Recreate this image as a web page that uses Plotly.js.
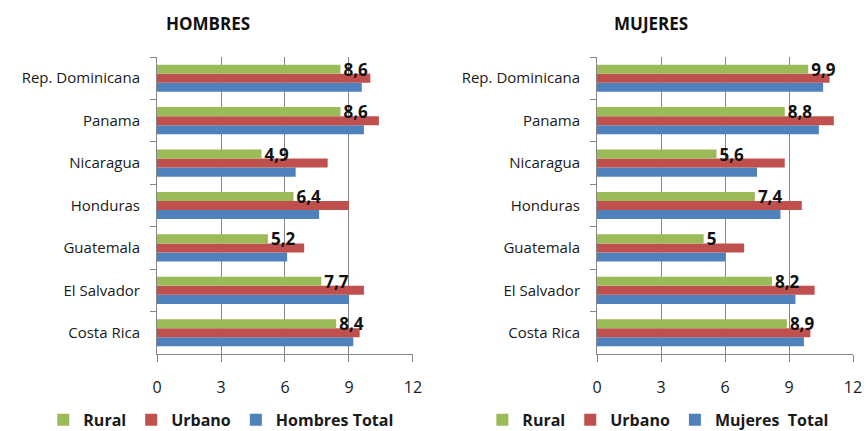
<!DOCTYPE html>
<html>
<head>
<meta charset="utf-8">
<script src="https://cdn.plot.ly/plotly-3.0.1.min.js"></script>
<style>html,body{margin:0;padding:0;background:#fff;}#chart{width:866px;height:431px;}</style>
</head>
<body>
<div id="chart"></div>
<script>
var categories = ["Costa Rica", "El Salvador", "Guatemala", "Honduras", "Nicaragua", "Panama", "Rep. Dominicana"];
var hombresRural  = [8.4, 7.7, 5.2, 6.4, 4.9, 8.6, 8.6];
var hombresUrbano = [9.5, 9.7, 6.9, 9.0, 8.0, 10.4, 10.0];
var hombresTotal  = [9.2, 9.0, 6.1, 7.6, 6.5, 9.7, 9.6];
var mujeresRural  = [8.9, 8.2, 5.0, 7.4, 5.6, 8.8, 9.9];
var mujeresUrbano = [10.0, 10.2, 6.9, 9.6, 8.8, 11.1, 10.9];
var mujeresTotal  = [9.7, 9.3, 6.0, 8.6, 7.5, 10.4, 10.6];
var xTicks = [0, 3, 6, 9, 12];

var GREEN = "#9BBB59", RED = "#C0504D", BLUE = "#4F81BD";
var FONT = "'Open Sans', Lato, sans-serif";
function fmt(v) { return String(v).replace(".", ","); }

function traces(rural, urbano, total, totalName, xa, ya, leg) {
  return [
    {type: "bar", orientation: "h", name: totalName, x: total, y: categories,
     marker: {color: BLUE}, xaxis: xa, yaxis: ya, legend: leg, hoverinfo: "x+y"},
    {type: "bar", orientation: "h", name: "Urbano", x: urbano, y: categories,
     marker: {color: RED}, xaxis: xa, yaxis: ya, legend: leg, hoverinfo: "x+y"},
    {type: "bar", orientation: "h", name: "Rural", x: rural, y: categories,
     marker: {color: GREEN}, xaxis: xa, yaxis: ya, legend: leg,
     text: rural.map(fmt), textposition: "outside", cliponaxis: false, constraintext: "none",
     textfont: {family: FONT, size: 17, color: "#111", weight: 700}, hoverinfo: "x+y"}
  ];
}

var data = traces(hombresRural, hombresUrbano, hombresTotal, "Hombres Total", "x", "y", "legend")
  .concat(traces(mujeresRural, mujeresUrbano, mujeresTotal, "Mujeres  Total", "x2", "y2", "legend2"));

function xaxis(domain, anchor) {
  return {
    domain: domain, anchor: anchor, range: [0, 12], tickvals: xTicks, ticktext: xTicks.map(String),
    showgrid: true, gridcolor: "#868686", gridwidth: 1, zeroline: false,
    showline: true, linecolor: "#868686", linewidth: 1,
    ticks: "outside", ticklen: 7, tickcolor: "#868686", ticklabelstandoff: 12,
    tickfont: {family: FONT, size: 16, color: "#1a1a1a"}, fixedrange: true
  };
}
function yaxis(anchor) {
  return {
    domain: [0.1787, 0.8677], anchor: anchor, type: "category", categoryorder: "array", categoryarray: categories,
    showline: true, linecolor: "#868686", linewidth: 1, showgrid: false, zeroline: false,
    ticks: "outside", ticklen: 6, tickcolor: "#868686", tickson: "boundaries", ticklabelstandoff: 13,
    tickfont: {family: FONT, size: 15, color: "#1a1a1a"}, fixedrange: true
  };
}

var legendBase = {
  orientation: "h", yanchor: "middle", xanchor: "left", yref: "container", y: 0.026,
  traceorder: "reversed", font: {family: FONT, size: 16, color: "#1a1a1a", weight: 700},
  bgcolor: "rgba(0,0,0,0)", itemwidth: 30, tracegroupgap: 0
};

var layout = {
  width: 866, height: 431,
  margin: {l: 0, r: 0, t: 0, b: 0, autoexpand: false},
  paper_bgcolor: "#fff", plot_bgcolor: "#fff",
  barmode: "group", bargap: 0.36, bargroupgap: 0,
  showlegend: true,
  xaxis: xaxis([0.1813, 0.4769], "y"),
  yaxis: yaxis("x"),
  xaxis2: xaxis([0.6894, 0.985], "y2"),
  yaxis2: yaxis("x2"),
  legend: Object.assign({}, legendBase, {x: 0.05}),
  legend2: Object.assign({}, legendBase, {x: 0.557}),
  annotations: [
    {text: "HOMBRES", xref: "paper", yref: "paper", x: 164/866, y: 1 - 23/431, xanchor: "left", yanchor: "middle",
     showarrow: false, font: {family: FONT, size: 17, color: "#111", weight: 700}},
    {text: "MUJERES", xref: "paper", yref: "paper", x: 612/866, y: 1 - 23/431, xanchor: "left", yanchor: "middle",
     showarrow: false, font: {family: FONT, size: 17, color: "#111", weight: 700}}
  ]
};

Plotly.newPlot("chart", data, layout, {displayModeBar: false, staticPlot: true});
</script>
</body>
</html>
